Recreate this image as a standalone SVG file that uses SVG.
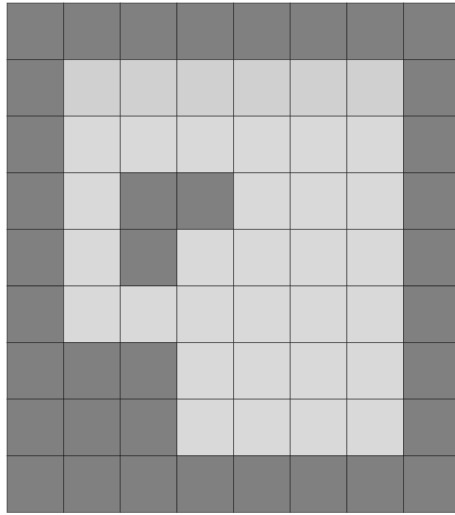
<svg xmlns="http://www.w3.org/2000/svg" width="455" height="515" viewBox="0 0 455 515">
<style>
.d{fill:#808080;stroke:#000;stroke-opacity:0.45;stroke-width:1}
.l{fill:#d9d9d9;stroke:#000;stroke-opacity:0.45;stroke-width:1}
.m{fill:#d0d0d0;stroke:#000;stroke-opacity:0.45;stroke-width:1}
</style>
<rect width="455" height="515" fill="#fff"/>
<defs>
<rect id="c" width="56.65" height="56.6"/>
</defs>
<g id="r0">
<use href="#c" class="d" x="7" y="3"/><use href="#c" class="d" x="63.65" y="3"/><use href="#c" class="d" x="120.3" y="3"/><use href="#c" class="d" x="176.95" y="3"/><use href="#c" class="d" x="233.6" y="3"/><use href="#c" class="d" x="290.25" y="3"/><use href="#c" class="d" x="346.9" y="3"/><use href="#c" class="d" x="403.55" y="3"/>
</g>
<g id="r1">
<use href="#c" class="d" x="7" y="59.6"/><use href="#c" class="m" x="63.65" y="59.6"/><use href="#c" class="m" x="120.3" y="59.6"/><use href="#c" class="m" x="176.95" y="59.6"/><use href="#c" class="m" x="233.6" y="59.6"/><use href="#c" class="m" x="290.25" y="59.6"/><use href="#c" class="m" x="346.9" y="59.6"/><use href="#c" class="d" x="403.55" y="59.6"/>
</g>
<g id="r2">
<use href="#c" class="d" x="7" y="116.2"/><use href="#c" class="l" x="63.65" y="116.2"/><use href="#c" class="l" x="120.3" y="116.2"/><use href="#c" class="l" x="176.95" y="116.2"/><use href="#c" class="l" x="233.6" y="116.2"/><use href="#c" class="l" x="290.25" y="116.2"/><use href="#c" class="l" x="346.9" y="116.2"/><use href="#c" class="d" x="403.55" y="116.2"/>
</g>
<g id="r3">
<use href="#c" class="d" x="7" y="172.8"/><use href="#c" class="l" x="63.65" y="172.8"/><use href="#c" class="d" x="120.3" y="172.8"/><use href="#c" class="d" x="176.95" y="172.8"/><use href="#c" class="l" x="233.6" y="172.8"/><use href="#c" class="l" x="290.25" y="172.8"/><use href="#c" class="l" x="346.9" y="172.8"/><use href="#c" class="d" x="403.55" y="172.8"/>
</g>
<g id="r4">
<use href="#c" class="d" x="7" y="229.4"/><use href="#c" class="l" x="63.65" y="229.4"/><use href="#c" class="d" x="120.3" y="229.4"/><use href="#c" class="l" x="176.95" y="229.4"/><use href="#c" class="l" x="233.6" y="229.4"/><use href="#c" class="l" x="290.25" y="229.4"/><use href="#c" class="l" x="346.9" y="229.4"/><use href="#c" class="d" x="403.55" y="229.4"/>
</g>
<g id="r5">
<use href="#c" class="d" x="7" y="286"/><use href="#c" class="l" x="63.65" y="286"/><use href="#c" class="l" x="120.3" y="286"/><use href="#c" class="l" x="176.95" y="286"/><use href="#c" class="l" x="233.6" y="286"/><use href="#c" class="l" x="290.25" y="286"/><use href="#c" class="l" x="346.9" y="286"/><use href="#c" class="d" x="403.55" y="286"/>
</g>
<g id="r6">
<use href="#c" class="d" x="7" y="342.6"/><use href="#c" class="d" x="63.65" y="342.6"/><use href="#c" class="d" x="120.3" y="342.6"/><use href="#c" class="l" x="176.95" y="342.6"/><use href="#c" class="l" x="233.6" y="342.6"/><use href="#c" class="l" x="290.25" y="342.6"/><use href="#c" class="l" x="346.9" y="342.6"/><use href="#c" class="d" x="403.55" y="342.6"/>
</g>
<g id="r7">
<use href="#c" class="d" x="7" y="399.2"/><use href="#c" class="d" x="63.65" y="399.2"/><use href="#c" class="d" x="120.3" y="399.2"/><use href="#c" class="l" x="176.95" y="399.2"/><use href="#c" class="l" x="233.6" y="399.2"/><use href="#c" class="l" x="290.25" y="399.2"/><use href="#c" class="l" x="346.9" y="399.2"/><use href="#c" class="d" x="403.55" y="399.2"/>
</g>
<g id="r8">
<use href="#c" class="d" x="7" y="455.8"/><use href="#c" class="d" x="63.65" y="455.8"/><use href="#c" class="d" x="120.3" y="455.8"/><use href="#c" class="d" x="176.95" y="455.8"/><use href="#c" class="d" x="233.6" y="455.8"/><use href="#c" class="d" x="290.25" y="455.8"/><use href="#c" class="d" x="346.9" y="455.8"/><use href="#c" class="d" x="403.55" y="455.8"/>
</g>
</svg>
